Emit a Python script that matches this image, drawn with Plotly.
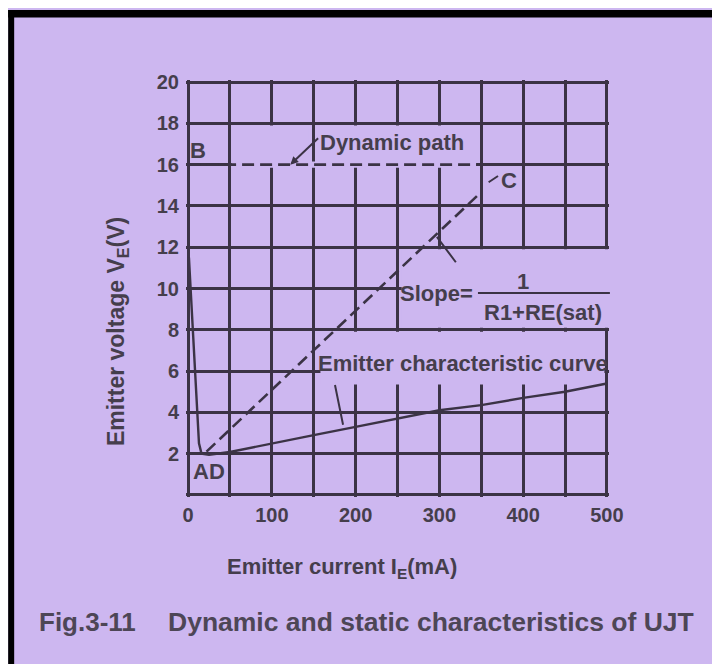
import plotly.graph_objects as go

# ---------------- data ----------------
x_tick_vals = [0, 50, 100, 150, 200, 250, 300, 350, 400, 450, 500]
x_tick_text = ["0", "", "100", "", "200", "", "300", "", "400", "", "500"]
y_tick_vals = [0, 2, 4, 6, 8, 10, 12, 14, 16, 18, 20]
y_tick_text = ["", "2", "4", "6", "8", "10", "12", "14", "16", "18", "20"]

# static emitter characteristic curve (IE in mA, VE in V)
emitter_current = [1, 4, 7, 10, 13, 16, 25, 50, 100, 150, 200, 250, 300, 350, 400, 450, 500]
emitter_voltage = [11.5, 9.1, 6.7, 4.4, 2.5, 2.0, 1.95, 2.08, 2.5, 2.9, 3.3, 3.7, 4.1, 4.35, 4.7, 5.0, 5.4]

# dynamic path: B -> C (horizontal) and load line C -> D
path_bc_current = [0, 345]
path_bc_voltage = [16, 16]
load_current = [22, 348]
load_voltage = [2.1, 14.6]

# ---------------- style / geometry ----------------
BG = "#CDB7F0"
INK = "#3b3345"
TXT = "#453e4c"
CAP = "#4d4656"
FONT = "Liberation Sans, Arial, sans-serif"

OFF = 8                      # page body margin
W, H = 720 - OFF, 664 - OFF  # figure size
X0_S, X500_S = 188, 607      # screen px of I=0 and I=500
Y0_S, Y20_S = 495, 82        # screen px of V=0 and V=20
XR = [-2.5, 502.5]
YR = [-0.1, 20.1]
kx = (X500_S - X0_S) / 500.0
ky = (Y0_S - Y20_S) / 20.0
Lm = (X0_S - OFF) + XR[0] * kx
PW = (XR[1] - XR[0]) * kx
Tm = (Y20_S - OFF) - (YR[1] - 20) * ky
PH = (YR[1] - YR[0]) * ky
Rm = W - Lm - PW
Bm = H - Tm - PH


def px(xs):
    return (xs - OFF - Lm) / PW


def py(ys):
    return (H - Bm - (ys - OFF)) / PH


fig = go.Figure()

fig.add_trace(go.Scatter(x=emitter_current, y=emitter_voltage, mode="lines",
                         line=dict(color=INK, width=2.4), hoverinfo="skip"))
fig.add_trace(go.Scatter(x=path_bc_current, y=path_bc_voltage, mode="lines",
                         line=dict(color=INK, width=2.6, dash="12px,6px"), hoverinfo="skip"))
fig.add_trace(go.Scatter(x=load_current, y=load_voltage, mode="lines",
                         line=dict(color=INK, width=2.6, dash="12px,6px"), hoverinfo="skip"))

axis_common = dict(showline=False, showgrid=True, gridcolor=INK, gridwidth=2.5, zeroline=False,
                   ticks="", tickfont=dict(family=FONT, size=20, color=TXT, weight="bold"),
                   fixedrange=True)

fig.update_xaxes(range=XR, tickmode="array", tickvals=x_tick_vals, ticktext=x_tick_text,
                 ticklabelstandoff=4, **axis_common)
fig.update_yaxes(range=YR, tickmode="array", tickvals=y_tick_vals, ticktext=y_tick_text,
                 ticklabelstandoff=6, **axis_common)

ann_font = dict(family=FONT, size=22, color=TXT, weight="bold")
annotations = [
    # axis titles
    dict(text="Emitter voltage V<sub>E</sub>(V)", xref="paper", yref="paper", x=px(118), y=py(332),
         xanchor="center", yanchor="middle",
         textangle=-90, showarrow=False, font=dict(family=FONT, size=23, color=TXT, weight="bold")),
    dict(text="Emitter current I<sub>E</sub>(mA)", xref="paper", yref="paper", x=px(342), y=py(568),
         xanchor="center", yanchor="middle",
         showarrow=False, font=dict(family=FONT, size=22, color=TXT, weight="bold")),
    # caption
    dict(text="Fig.3-11", xref="paper", yref="paper", x=px(37), y=py(622), xanchor="left",
         yanchor="middle",
         showarrow=False, font=dict(family=FONT, size=26, color=CAP, weight="bold")),
    dict(text="Dynamic and static characteristics of UJT", xref="paper", yref="paper",
         x=px(166), y=py(622), xanchor="left", yanchor="middle",
         showarrow=False, font=dict(family=FONT, size=26.5, color=CAP, weight="bold")),
    # point labels
    dict(text="B", x=12, y=16.7, showarrow=False, font=ann_font),
    dict(text="AD", x=25, y=1.15, showarrow=False, font=ann_font),
    dict(text="C", x=383, y=15.25, showarrow=False, font=ann_font),
    dict(text="", x=370, y=15.45, ax=357, ay=15.1, axref="x", ayref="y",
         showarrow=True, arrowhead=0, arrowwidth=2, arrowcolor=INK),
    # dynamic path label + pointer
    dict(text="Dynamic path", x=243, y=17.05, showarrow=False, font=ann_font),
    dict(text="", x=122, y=16.0, ax=157, ay=17.35, axref="x", ayref="y",
         showarrow=True, arrowhead=2, arrowsize=0.8, arrowwidth=2, arrowcolor=INK),
    # slope label + pointer
    dict(text="Slope=", x=296, y=9.78, showarrow=False, font=ann_font),
    dict(text="1", x=400, y=10.35, showarrow=False, font=ann_font),
    dict(text="R1+RE(sat)", x=424, y=8.86, showarrow=False, font=ann_font),
    dict(text="", x=297, y=12.5, ax=321, ay=11.2, axref="x", ayref="y",
         showarrow=True, arrowhead=0, arrowwidth=2, arrowcolor=INK),
    # emitter curve label + pointer
    dict(text="Emitter characteristic curve", x=328, y=6.35,
         showarrow=False, font=ann_font),
    dict(text="", x=185, y=3.4, ax=175, ay=5.4, axref="x", ayref="y",
         showarrow=True, arrowhead=0, arrowwidth=2, arrowcolor=INK),
]

mask = dict(fillcolor=BG, line=dict(width=0), layer="between", xref="x", yref="y", type="rect")
shapes = [
    # black frame top and left (page margin gives the white edge)
    dict(type="rect", xref="paper", yref="paper", x0=px(OFF), x1=px(720), y0=py(17.5), y1=py(10),
         fillcolor="black", line=dict(width=0)),
    dict(type="rect", xref="paper", yref="paper", x0=px(OFF), x1=px(14), y0=py(664), y1=py(10),
         fillcolor="black", line=dict(width=0)),
    # blanked grid behind the labels
    dict(mask, x0=255, x1=XR[1], y0=8.1, y1=11.9),
    dict(mask, x0=56, x1=144, y0=16.1, y1=17.9),
    dict(mask, x0=156, x1=344, y0=16.1, y1=17.9),
    dict(mask, x0=158, x1=497, y0=5.35, y1=7.9),
    # grid line under the dashed B-C path is not drawn
    dict(mask, x0=52, x1=344, y0=15.85, y1=16.15),
    # fraction bar
    dict(type="line", xref="paper", yref="y", x0=px(478), x1=px(610), y0=9.78, y1=9.78,
         line=dict(color=INK, width=2)),
]

fig.update_layout(
    width=W, height=H,
    margin=dict(l=Lm, r=Rm, t=Tm, b=Bm, pad=0),
    paper_bgcolor=BG, plot_bgcolor=BG,
    showlegend=False,
    font=dict(family=FONT, color=TXT),
    annotations=annotations,
    shapes=shapes,
)

fig.write_html("out.html")
